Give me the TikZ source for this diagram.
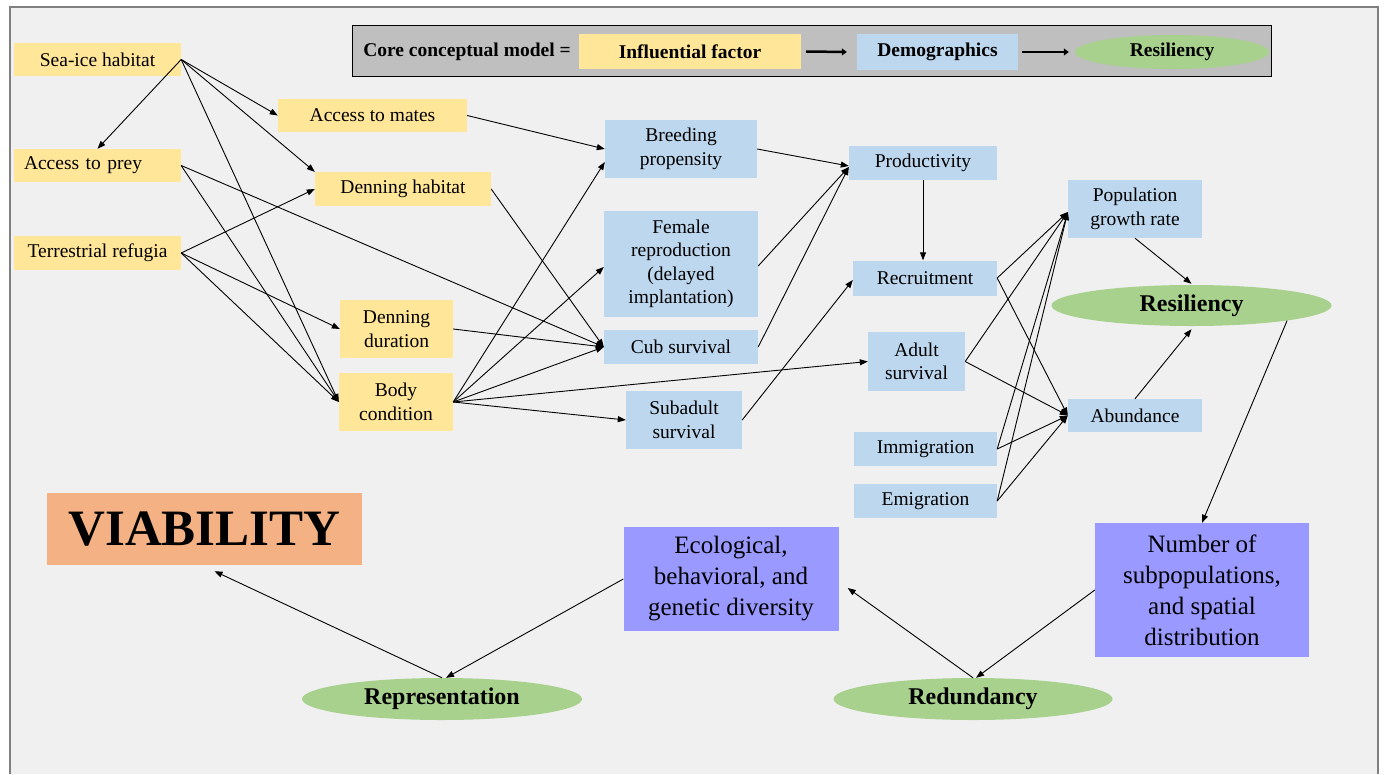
\documentclass[tikz,border=0pt]{standalone}
\usepackage{fontspec}
\setmainfont{Liberation Serif}
\usetikzlibrary{arrows.meta,shapes.geometric,calc}
\definecolor{yelc}{HTML}{FFE699}
\definecolor{bluc}{HTML}{BDD7EE}
\definecolor{grnc}{HTML}{A9D18E}
\definecolor{purc}{HTML}{9999FF}
\definecolor{orac}{HTML}{F4B183}
\definecolor{bgc}{HTML}{F0F0F0}
\definecolor{legc}{HTML}{BFBFBF}
\definecolor{framec}{HTML}{808080}
\begin{document}
\begin{tikzpicture}[x=1pt,y=-1pt,
  box/.style={rectangle, inner sep=0pt, align=center, font=\fontsize{19.5}{23.5}\selectfont},
  yel/.style={box, fill=yelc},
  blu/.style={box, fill=bluc},
  pur/.style={box, fill=purc, font=\fontsize{25}{31}\selectfont},
  ell/.style={ellipse, fill=grnc, inner sep=0pt, font=\bfseries\fontsize{24}{28}\selectfont},
  legf/.style={font=\bfseries\fontsize{19.5}{23}\selectfont},
  arr/.style={-{Triangle[length=8pt,width=6pt]}, line width=0.9pt},
  sz/.style 2 args={minimum width=#1pt, minimum height=#2pt}
]
\useasboundingbox (0,0) rectangle (1384,774);
\fill[white] (0,0) rectangle (1384,774);
\fill[bgc] (10,7) rectangle (1378,774);
\draw[framec, line width=2pt] (10,774) -- (10,7) -- (1378,7) -- (1378,774);

% legend
\node[draw=black, line width=1pt, fill=legc, sz={919}{51}] (leg) at (811.5,50.5) {};
\node[legf, inner sep=0pt] (legt) at (467,52) {Core conceptual model =};
\node[yel, legf, sz={222}{35}] (legif) at (690,51.5) {Influential factor};
\node[blu, legf, sz={161}{36}] (legdem) at (937.5,52) {Demographics};
\node[ell, legf, sz={194}{34}] (legres) at (1172,52) {Resiliency};
\draw[line width=2.5pt, -{Triangle[length=5pt,width=7pt]}] ([xshift=5pt]legif.east) -- ([xshift=-10pt]legdem.west);
\draw[line width=2.5pt, -{Triangle[length=5pt,width=7pt]}] ([xshift=4pt]legdem.east) -- ([xshift=-6pt]legres.west);

% influential factors
\node[yel, sz={167}{33}] (sea) at (97.5,59.5) {Sea-ice habitat};
\node[yel, sz={167}{33}, text width=147pt, inner xsep=10pt, align=left] (prey) at (97.5,165.5) {Access to prey};
\node[yel, sz={167}{34}] (terr) at (97.5,253) {Terrestrial refugia};
\node[yel, sz={189}{33}] (mates) at (372.5,115.5) {Access to mates};
\node[yel, sz={176}{34}] (dh) at (403,189) {Denning habitat};
\node[yel, sz={113}{58}] (dd) at (396.5,329) {Denning\\duration};
\node[yel, sz={114}{58}] (bc) at (396,402) {Body\\condition};

% demographics
\node[blu, sz={152}{58}] (bp) at (681,149) {Breeding\\propensity};
\node[blu, sz={154}{106}] (fr) at (681,264) {Female\\reproduction\\(delayed\\implantation)};
\node[blu, sz={154}{34}] (cub) at (681,347) {Cub survival};
\node[blu, sz={116}{58}] (sub) at (684,420) {Subadult\\survival};
\node[blu, sz={148}{34}] (prod) at (923,163) {Productivity};
\node[blu, sz={144}{35}] (rec) at (925,278) {Recruitment};
\node[blu, sz={97}{59}] (adult) at (916.5,361.5) {Adult\\survival};
\node[blu, sz={143}{34}] (imm) at (925.5,449) {Immigration};
\node[blu, sz={143}{34}] (emi) at (925.5,501) {Emigration};
\node[blu, sz={134}{58}] (pgr) at (1135,209) {Population\\growth rate};
\node[blu, sz={134}{33}] (abund) at (1135,415.5) {Abundance};

% resiliency, redundancy, representation
\node[ell, sz={280}{41}] (resil) at (1191.5,305.5) {Resiliency};
\node[pur, sz={214}{134}] (num) at (1202,590) {Number of\\subpopulations,\\and spatial\\distribution};
\node[pur, sz={215}{104}] (eco) at (731,579) {Ecological,\\behavioral, and\\genetic diversity};
\node[rectangle, fill=orac, sz={315}{72}, inner sep=0pt, font=\bfseries\fontsize{51}{56}\selectfont] (viab) at (204.5,529) {VIABILITY};
\node[ell, sz={280}{42}] (repr) at (442,699) {Representation};
\node[ell, sz={279}{42}] (redun) at (973,699) {Redundancy};

% connectors: influential factors
\draw[arr] (sea.east) -- (prey.north);
\draw[arr] (sea.east) -- (mates.west);
\draw[arr] (sea.east) -- (dh.north west);
\draw[arr] (sea.east) -- (bc.west);
\draw[arr] (prey.east) -- (bc.west);
\draw[arr] (prey.east) -- (cub.west);
\draw[arr] (terr.east) -- (dh.west);
\draw[arr] (terr.east) -- (dd.west);
\draw[arr] (terr.east) -- (bc.west);
\draw[arr] (mates.east) -- (bp.west);
\draw[arr] (dh.east) -- (cub.west);
\draw[arr] (dd.east) -- (cub.west);
\draw[arr] (bc.east) -- ([shift={(0,13)}]bp.west);
\draw[arr] (bc.east) -- ([shift={(0,3)}]fr.west);
\draw[arr] (bc.east) -- (cub.west);
\draw[arr] (bc.east) -- (adult.west);
\draw[arr] (bc.east) -- (sub.west);

% demographics
\draw[arr] (bp.east) -- ([shift={(0,3)}]prod.west);
\draw[arr] ([shift={(0,2)}]fr.east) -- ([shift={(0,4)}]prod.west);
\draw[arr] (cub.east) -- ([shift={(0,4)}]prod.west);
\draw[arr] (prod.south) -- (prod.south |- rec.north);
\draw[arr] (sub.east) -- ([shift={(0,2)}]rec.west);
\draw[arr] (rec.east) -- ([shift={(0,3)}]pgr.west);
\draw[arr] (rec.east) -- (abund.west);
\draw[arr] (adult.east) -- ([shift={(0,3)}]pgr.west);
\draw[arr] (adult.east) -- (abund.west);
\draw[arr] (imm.east) -- ([shift={(0,3)}]pgr.west);
\draw[arr] (imm.east) -- (abund.west);
\draw[arr] (emi.east) -- ([shift={(0,3)}]pgr.west);
\draw[arr] (emi.east) -- (abund.west);
\draw[arr] (pgr.south) -- ([shift={(0,-1)}]resil.north);
\draw[arr] (abund.north) -- ([shift={(0,3)}]resil.south);

% viability components
\draw[arr] (resil.-9.5) -- (num.north);
\draw[arr] (num.west) -- ([shift={(3,0)}]redun.north);
\draw[arr] (redun.north) -- ([shift={(9,9)}]eco.east);
\draw[arr] (eco.west) -- ([shift={(4,0)}]repr.north);
\draw[arr] (repr.north) -- ([shift={(10,6)}]viab.south);
\end{tikzpicture}
\end{document}
